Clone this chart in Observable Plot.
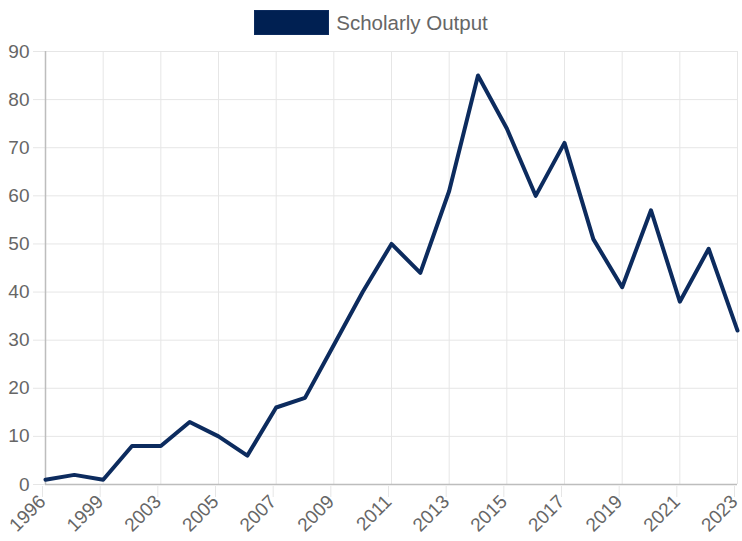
<!DOCTYPE html>
<html>
<head>
<meta charset="utf-8">
<script src="https://cdn.jsdelivr.net/npm/d3@7"></script>
<script src="https://cdn.jsdelivr.net/npm/@observablehq/plot@0.6"></script>
<style>
  html, body { margin: 0; padding: 0; background: #fff; }
  body { width: 742px; height: 541px; overflow: hidden; font-family: "Liberation Sans", Arial, sans-serif; }
  #legend { height: 36px; position: relative; }
  #legend .inner { position: absolute; left: 0; right: 0; top: 10px; display: flex; justify-content: center; align-items: center; }
  #legend .box { width: 73px; height: 23px; background: #002052; border: 1px solid #0c2b5e; }
  #legend .lbl { margin-left: 7px; font-size: 20.5px; color: #666; line-height: 25px; }
  #chart svg { display: block; }
</style>
</head>
<body>
<div id="legend"><div class="inner"><span class="box"></span><span class="lbl">Scholarly Output</span></div></div>
<div id="chart"></div>
<script>
const seriesName = "Scholarly Output";
const years = ["1996","1998","1999","2001","2003","2004","2005","2006","2007","2008","2009","2010","2011","2012","2013","2014","2015","2016","2017","2018","2019","2020","2021","2022","2023"];
const values = [1, 2, 1, 8, 8, 13, 10, 6, 16, 18, 29, 40, 50, 44, 61, 85, 74, 60, 71, 51, 41, 57, 38, 49, 32];
const xTickLabels = ["1996","1999","2003","2005","2007","2009","2011","2013","2015","2017","2019","2021","2023"];
const yTicks = [0, 10, 20, 30, 40, 50, 60, 70, 80, 90];

const data = years.map((y, i) => ({year: y, value: values[i]}));

const chart = Plot.plot({
  width: 742,
  height: 505,
  marginTop: 15,
  marginBottom: 57,
  marginLeft: 45,
  marginRight: 5,
  style: {fontFamily: "'Liberation Sans', Arial, sans-serif", fontSize: "19px", background: "#fff"},
  x: {type: "point", domain: years, padding: 0, round: false},
  y: {domain: [0, 90]},
  marks: [
    Plot.gridY(yTicks, {stroke: "#e6e6e6", strokeOpacity: 1}),
    Plot.gridX(xTickLabels, {stroke: "#e6e6e6", strokeOpacity: 1}),
    Plot.axisY(yTicks, {tickSize: 12, tickPadding: 4, stroke: "#e6e6e6", strokeOpacity: 1, fill: "#666", label: null, fontSize: 19}),
    Plot.axisX(xTickLabels, {tickSize: 11, tickPadding: 1, tickRotate: -45, dx: -3, dy: 2, stroke: "#e6e6e6", strokeOpacity: 1, fill: "#666", label: null, fontSize: 19}),
    Plot.ruleY([0], {stroke: "#bdbdbd", strokeWidth: 1.5}),
    Plot.ruleX([years[0]], {stroke: "#bdbdbd", strokeWidth: 1.5}),
    Plot.line(data, {x: "year", y: "value", stroke: "#0c2b5e", strokeWidth: 4, strokeLinejoin: "round", strokeLinecap: "round"})
  ]
});
document.getElementById("chart").appendChild(chart);
</script>
</body>
</html>
